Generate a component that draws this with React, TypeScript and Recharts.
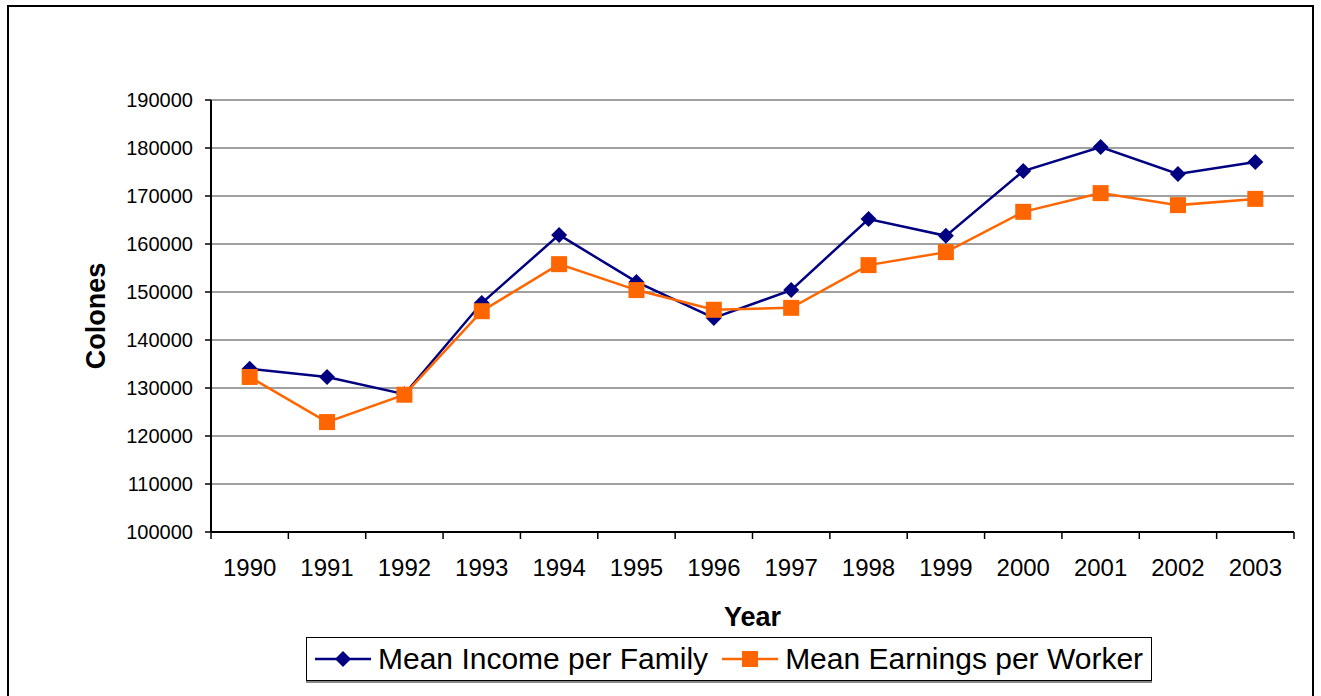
import React from "react";
import {
  LineChart,
  Line,
  XAxis,
  YAxis,
  CartesianGrid,
  Legend,
} from "recharts";

const years = [
  "1990", "1991", "1992", "1993", "1994", "1995", "1996",
  "1997", "1998", "1999", "2000", "2001", "2002", "2003",
];
const incomePerFamily = [
  134000, 132300, 128700, 147700, 161900, 152100, 144600,
  150400, 165200, 161700, 175200, 180200, 174600, 177100,
];
const earningsPerWorker = [
  132300, 122900, 128600, 146000, 155800, 150400, 146300,
  146700, 155600, 158300, 166700, 170600, 168100, 169400,
];
const yTicks = [100000, 110000, 120000, 130000, 140000, 150000, 160000, 170000, 180000, 190000];

const FONT = "Arial, 'Liberation Sans', sans-serif";
const NAVY = "#000080";
const ORANGE = "#FF6600";
const X_TICK_MARGIN = 27;

const chartData = years.map((year, i) => ({
  year,
  family: incomePerFamily[i],
  worker: earningsPerWorker[i],
}));

const DiamondDot = (props: any) => {
  const { cx, cy, index } = props;
  if (cx == null || cy == null) return <g key={`d-${index}`} />;
  const r = 8;
  return (
    <path
      key={`d-${index}`}
      d={`M${cx},${cy - r}L${cx + r},${cy}L${cx},${cy + r}L${cx - r},${cy}Z`}
      fill={NAVY}
    />
  );
};

const SquareDot = (props: any) => {
  const { cx, cy, index } = props;
  if (cx == null || cy == null) return <g key={`s-${index}`} />;
  const s = 16;
  return (
    <rect
      key={`s-${index}`}
      x={cx - s / 2}
      y={cy - s / 2}
      width={s}
      height={s}
      fill={ORANGE}
    />
  );
};

// Year label plus tick marks on the category boundaries (Excel style)
const YearTick = (props: any) => {
  const { x, y, payload, index } = props;
  const half = payload?.offset ?? 0;
  const axisY = y - X_TICK_MARGIN;
  const isLast = index === years.length - 1;
  return (
    <g>
      <line x1={x - half} y1={axisY} x2={x - half} y2={axisY + 7} stroke="#000" strokeWidth={1.5} />
      {isLast && (
        <line x1={x + half} y1={axisY} x2={x + half} y2={axisY + 7} stroke="#000" strokeWidth={1.5} />
      )}
      <text
        x={x}
        y={y}
        dy="0.71em"
        textAnchor="middle"
        fontFamily={FONT}
        fontSize={24}
        fill="#000"
      >
        {payload.value}
      </text>
    </g>
  );
};

// Legend box with line + marker icons
const LegendBox = () => {
  const items = [
    { label: "Mean Income per Family", color: NAVY, shape: "diamond" },
    { label: "Mean Earnings per Worker", color: ORANGE, shape: "square" },
  ];
  return (
    <div
      style={{
        display: "flex",
        alignItems: "center",
        height: 44,
        boxSizing: "border-box",
        border: "1.5px solid #000",
        boxShadow: "0 2px 0 #888",
        padding: "0 8px 0 8px",
        background: "#fff",
        fontFamily: FONT,
        fontSize: 30,
        color: "#000",
        whiteSpace: "nowrap",
      }}
    >
      {items.map((it, i) => (
        <div
          key={it.label}
          style={{ display: "flex", alignItems: "center", marginLeft: i ? 14 : 0 }}
        >
          <svg width={56} height={20} style={{ marginRight: 7 }}>
            <line x1={0} y1={10} x2={56} y2={10} stroke={it.color} strokeWidth={2.5} />
            {it.shape === "diamond" ? (
              <path d="M28,2L36,10L28,18L20,10Z" fill={it.color} />
            ) : (
              <rect x={20} y={2} width={16} height={16} fill={it.color} />
            )}
          </svg>
          <span>{it.label}</span>
        </div>
      ))}
    </div>
  );
};

export default function App() {
  return (
    <div
      style={{
        position: "absolute",
        left: 0,
        top: 0,
        width: 1321,
        height: 696,
        overflow: "hidden",
        background: "#fff",
      }}
    >
      <div
        style={{
          position: "absolute",
          left: 7,
          top: 5,
          width: 1307,
          height: 740,
          border: "2px solid #000",
          boxSizing: "border-box",
        }}
      />
      <div style={{ position: "absolute", left: 0, top: 0 }}>
        <LineChart
          width={1321}
          height={696}
          data={chartData}
          margin={{ top: 100, right: 27, left: 81, bottom: 104 }}
        >
          <CartesianGrid
            xAxisId="cat"
            yAxisId="l"
            vertical={false}
            stroke="#808080"
            strokeWidth={1.5}
          />
          <XAxis
            xAxisId="cat"
            dataKey="year"
            scale="band"
            interval={0}
            axisLine={{ stroke: "#000", strokeWidth: 2 }}
            tickLine={false}
            tickSize={0}
            tickMargin={X_TICK_MARGIN}
            height={60}
            tick={YearTick}
            label={{
              content: (p: any) => {
                const vb = p.viewBox;
                return (
                  <text
                    x={vb.x + vb.width / 2}
                    y={vb.y + 94}
                    textAnchor="middle"
                    fontFamily={FONT}
                    fontSize={27}
                    fontWeight="bold"
                    fill="#000"
                  >
                    Year
                  </text>
                );
              },
            }}
          />
          <YAxis
            yAxisId="l"
            domain={[100000, 190000]}
            ticks={yTicks}
            interval={0}
            width={130}
            axisLine={{ stroke: "#000", strokeWidth: 2 }}
            tickLine={{ stroke: "#000", strokeWidth: 1.5 }}
            tickSize={6}
            tickMargin={12}
            tick={{ fontSize: 20, fill: "#000", fontFamily: FONT }}
            label={{
              content: (p: any) => {
                const vb = p.viewBox;
                const cx = vb.x + 15;
                const cy = vb.y + vb.height / 2;
                return (
                  <text
                    x={cx}
                    y={cy}
                    transform={`rotate(-90 ${cx} ${cy})`}
                    textAnchor="middle"
                    dominantBaseline="central"
                    fontFamily={FONT}
                    fontSize={27}
                    fontWeight="bold"
                    fill="#000"
                  >
                    Colones
                  </text>
                );
              },
            }}
          />
          <YAxis
            yAxisId="r"
            orientation="right"
            domain={[100000, 190000]}
            width={0}
            tick={false}
            tickLine={false}
            axisLine={{ stroke: "#808080", strokeWidth: 1.5 }}
          />
          <Legend
            verticalAlign="middle"
            layout="horizontal"
            content={() => <LegendBox />}
            wrapperStyle={{ left: 306, top: 637, width: "auto", height: "auto" }}
          />
          <Line
            xAxisId="cat"
            yAxisId="l"
            type="linear"
            dataKey="family"
            name="Mean Income per Family"
            stroke={NAVY}
            strokeWidth={2.5}
            dot={DiamondDot}
            activeDot={false}
            isAnimationActive={false}
          />
          <Line
            xAxisId="cat"
            yAxisId="l"
            type="linear"
            dataKey="worker"
            name="Mean Earnings per Worker"
            stroke={ORANGE}
            strokeWidth={2.5}
            dot={SquareDot}
            activeDot={false}
            isAnimationActive={false}
          />
        </LineChart>
      </div>
    </div>
  );
}
